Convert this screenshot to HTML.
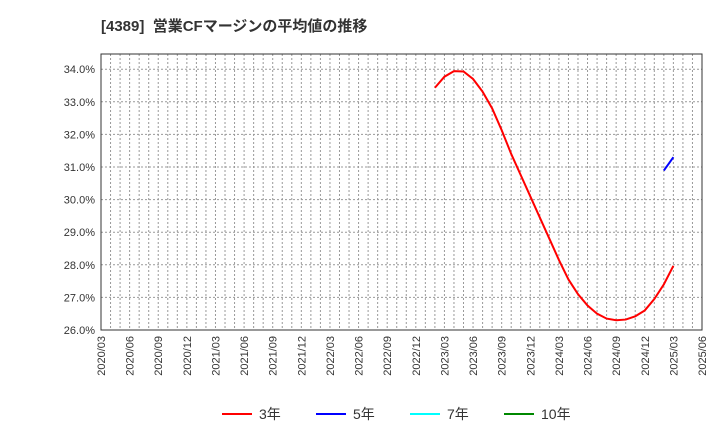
<!DOCTYPE html>
<html><head><meta charset="utf-8"><style>
body{margin:0;background:#fff;font-family:"Liberation Sans","Noto Sans CJK JP",sans-serif}
</style></head><body>
<svg id="c" width="720" height="440" xmlns="http://www.w3.org/2000/svg">
<text x="101" y="31" font-size="15" font-weight="bold" fill="#333" style="white-space:pre" font-family="Liberation Sans,Noto Sans CJK JP,sans-serif">[4389]  営業CFマージンの平均値の推移</text>
<g id="grid"></g><g id="axes"></g><g id="series"></g><g id="legend"></g>
</svg>
<script>
const yTicks=[26,27,28,29,30,31,32,33,34];
const xLabels=["2020/03","2020/06","2020/09","2020/12","2021/03","2021/06","2021/09","2021/12","2022/03","2022/06","2022/09","2022/12","2023/03","2023/06","2023/09","2023/12","2024/03","2024/06","2024/09","2024/12","2025/03","2025/06"];
const red3Start=35; // month index from 2020/03 (2023/02)
const red3=[33.43,33.77,33.94,33.93,33.70,33.31,32.80,32.13,31.4,30.75,30.1,29.45,28.8,28.15,27.55,27.1,26.75,26.5,26.35,26.3,26.32,26.42,26.6,26.95,27.4,27.97];
const blue5Start=59;
const blue5=[30.89,31.30];
const L=101,R=702,T=54,B=330;
const NS="http://www.w3.org/2000/svg";
function x(m){return L+m*(R-L)/63;}
function y(v){return 69.2+(34-v)*32.6;}
function mk(t,a,p){const e=document.createElementNS(NS,t);for(const k in a)e.setAttribute(k,a[k]);p.appendChild(e);return e;}
const g=document.getElementById('grid'),ax=document.getElementById('axes'),s=document.getElementById('series'),lg=document.getElementById('legend');
for(let m=1;m<63;m++){const l=mk('line',{x1:x(m),x2:x(m),y1:T,y2:B,stroke:'#999','stroke-dasharray':'2,2','stroke-width':1},g);

}
yTicks.forEach(v=>{const l=mk('line',{x1:L,x2:R,y1:y(v),y2:y(v),stroke:'#999','stroke-dasharray':'2,2'},g);


const t=mk('text',{x:L-6,y:y(v)+4,'text-anchor':'end','font-size':11,fill:'#333'},ax);t.textContent=v.toFixed(1)+'%';

});
xLabels.forEach((lab,i)=>{const xx=x(i*3);const t=mk('text',{x:xx+4,y:B+6,'text-anchor':'end','font-size':11,fill:'#333',transform:`rotate(-90 ${xx+4} ${B+6})`},ax);t.textContent=lab;

});
const fr=mk('rect',{x:L,y:T,width:R-L,height:B-T,fill:'none',stroke:'#333'},ax);


function line(d,st,col,name){const p=mk('polyline',{points:d.map((v,i)=>x(st+i)+','+y(v)).join(' '),fill:'none',stroke:col,'stroke-width':2},s);

}
line(red3,red3Start,'#f00','series-3y');
line(blue5,blue5Start,'#00f','series-5y');
const items=[['3年','#f00',222],['5年','#00f',316],['7年','#0ff',410],['10年','#080',504]];
items.forEach(([n,c,lx])=>{const gg=mk('g',{},lg);


mk('line',{x1:lx,x2:lx+30,y1:414,y2:414,stroke:c,'stroke-width':2},gg);
const t=mk('text',{x:lx+37,y:419,'font-size':14,fill:'#333'},gg);t.textContent=n;});
</script>
</body></html>
